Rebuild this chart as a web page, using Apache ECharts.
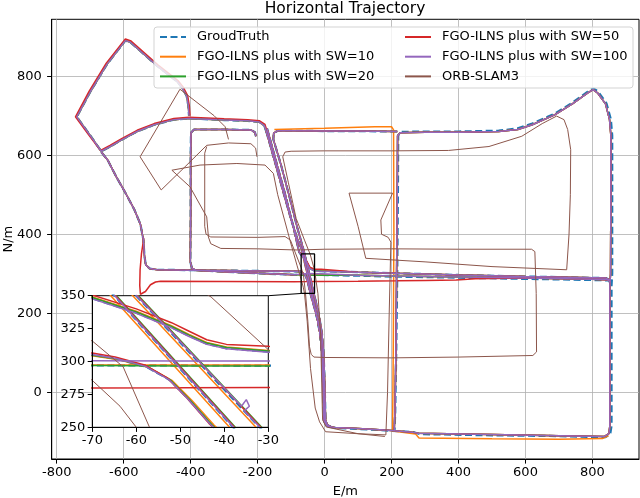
<!DOCTYPE html>
<html>
<head>
<meta charset="utf-8">
<script src="https://cdn.jsdelivr.net/npm/echarts@6/dist/echarts.min.js"></script>
<style>
  html, body { margin: 0; padding: 0; background: #fff; }
  #chart { width: 640px; height: 498px; }
</style>
</head>
<body>
<div id="chart"></div>
<script>
// Horizontal trajectory: ground truth vs FGO-ILNS variants vs ORB-SLAM3, with a zoom inset
const FONT = "'DejaVu Sans', sans-serif";

// axes
const xMainRange = [-815, 939];
const yMainRange = [-169, 944];
const xMainTicks = [-800, -600, -400, -200, 0, 200, 400, 600, 800];
const yMainTicks = [0, 200, 400, 600, 800];
const insetX = [-70, -30];
const insetY = [250, 350];

// names
const names = ['GroudTruth', 'FGO-ILNS plus with SW=10', 'FGO-ILNS plus with SW=20',
  'FGO-ILNS plus with SW=50', 'FGO-ILNS plus with SW=100', 'ORB-SLAM3'];

// shared road pieces [E, N] (m)
const rectRoad = [[-205,648],[-208,658],[-220,664],[-300,665],[-390,665],[-399,657],[-400,600],[-400,450],[-401,330],[-396,314],[-385,309],[-300,305],[-200,301],[-90,297.2]];
const westRoad = [[-667,608],[-648,588],[-622,545],[-595,505],[-568,462],[-550,425],[-541,385],[-538,345],[-534,322],[-522,313],[-500,310],[-400,309],[-300,308],[-200,307],[-90,306]];
const topWestKite = [[-175,662],[-180,675],[-195,684],[-230,687],[-300,689],[-405,693],[-450,690],[-509,677],[-560,660],[-606,639],[-640,622],[-667,610],[-700,650],[-740,697],[-700,760],[-650,830],[-595,890],[-580,886],[-500,826],[-440,786],[-425,770],[-412,750],[-407,725],[-405,700]];
const diagANorth = [[-175,662],[-170,648],[-150,588],[-125,512],[-100,437],[-82,390],[-68,361]];
const diagASouth = [[-35,239],[-25,200],[-14,150],[-8,100],[-5,30],[-3,-40],[-2,-72],[5,-84],[15,-88]];
const diagBNorth = [[217,660],[100,661],[0,661],[-100,662],[-140,662],[-152,656],[-153,640],[-130,575],[-105,495],[-82,418],[-63,361]];
const diagBSouth = [[-29,239],[-18,200],[-8,150],[-3,100],[0,30],[2,-40],[3,-70],[8,-83],[20,-88]];
const upperNorth = [[-172,668],[-166,650],[-145,585],[-120,508],[-95,425],[-76,355]];
const southFromL = [[-30,213],[-20,180],[-12,140],[-6,90],[-3,30],[-1,-30],[0,-65],[4,-80],[12,-87]];
const hEast1 = [[-10,297],[100,296],[215,294],[400,292],[600,289],[800,286],[845,285],[852,279]];
const hEast1Gt = [[-10,296.8],[100,295],[215,292.5],[400,290],[600,287],[800,284],[847,283],[854,277]];
const hEast2 = [[-10,306.5],[100,304],[215,301],[400,297],[600,293],[840,289],[853,284]];
const outerFgo = [[12,-87],[30,-89],[100,-92],[190,-96],[260,-101],[280,-104],[500,-107],[700,-110],[836,-112],[849,-105],[852,-85],[852,100],[852,270],[854,300],[855,500],[855,650],[851,690],[839,730],[815,758],[802,766],[786,758],[740,730],[687,702],[620,677],[577,665],[520,660],[400,658],[300,658],[226,657],[218,649],[217,500],[215,298],[213,100],[210,-50],[208,-96]];
const outerGt = [[12,-88],[30,-90],[100,-93],[190,-97],[265,-101],[285,-106],[500,-109],[700,-111],[838,-114],[853,-106],[857,-85],[857,100],[857,270],[859,300],[859,500],[859,650],[855,691],[842,731],[817,761],[803,769],[786,761],[740,733],[687,705],[620,680],[577,668],[520,662],[400,660],[300,660],[227,659],[220,650],[219,500],[217,298],[214,100],[211,-50],[209,-96]];

// series-specific pieces
const sw10Extra = [[-150,665],[0,668],[150,672],[200,672],[206,664],[207,400],[205,100],[203,-98],[272,-106],[282,-116],[500,-118],[700,-119],[830,-117],[848,-110]];
const sw50Hook = [[-540,390],[-547,350],[-551,310],[-552,270],[-550,248],[-545,243],[-535,255],[-520,272],[-505,279],[-490,281],[-300,280],[-90,279.6]];
const sw50East = [[-10,280.6],[100,281],[215,282],[300,283],[393,284],[450,287],[600,289],[800,286],[850,284]];
const sw50Kite = [[-173,664],[-178,678],[-194,687],[-230,690],[-300,692],[-405,696],[-450,693],[-509,680],[-560,663],[-606,642],[-641,625],[-669,612],[-703,650],[-744,697],[-703,762],[-652,833],[-595,894],[-578,889],[-498,829],[-438,789],[-422,772],[-409,751],[-404,725],[-402,700]];

// junction crossings (the inset window), one per series
const jH = {
  gt:    [[-90,297.3],[-50,297.0],[-10,296.8]],
  sw10:  [[-90,297.6],[-50,297.4],[-10,297.1]],
  sw20:  [[-90,296.9],[-50,296.6],[-10,296.4]],
  sw50:  [[-90,279.6],[-50,280.0],[-10,280.6]],
  sw100: [[-90,300.6],[-50,300.4],[-10,300.2]]
};
const jU = {
  gt:    [[-76,355],[-70,348],[-60,337],[-52,326],[-48,319.5],[-44,313.5],[-39.5,310],[-30,307.5],[-10,306.5]],
  sw10:  [[-76,356],[-70,349],[-60,338.2],[-52,327.2],[-48,320.6],[-44,314.4],[-39.5,311],[-30,308.4],[-10,307.4]],
  sw20:  [[-76,355.5],[-70,348.6],[-60,337.6],[-52,326.6],[-48,320],[-44,314],[-39.5,310.6],[-30,308],[-10,307]],
  sw50:  [[-76,357],[-70,350.5],[-60,340],[-52,329.5],[-48,323],[-44,316.5],[-39.5,313],[-30,311.5],[-10,311]],
  sw100: [[-76,354.6],[-70,347.6],[-60,336.6],[-52,325.6],[-48,319],[-44,313],[-39.5,309.6],[-30,307],[-10,306]]
};
const jL = {
  gt:    [[-90,306],[-70,305],[-64.5,302],[-57.7,296],[-52.4,286],[-48,271],[-43,252],[-39.5,241],[-30,213]],
  sw10:  [[-90,305.5],[-70,304.4],[-64,301.4],[-57.1,295.4],[-51.8,285.4],[-47.4,270.6],[-42.3,251.6],[-38.8,240.6],[-29.3,212.6]],
  sw20:  [[-90,305.8],[-70,304.8],[-64.3,301.8],[-57.5,295.8],[-52.2,285.8],[-47.8,270.8],[-42.8,251.8],[-39.3,240.8],[-29.8,212.8]],
  sw50:  [[-90,307.3],[-70,306.4],[-64.8,303.4],[-58.1,297.4],[-52.9,287.3],[-48.5,272.2],[-43.5,253],[-40,242],[-30.5,214]],
  sw100: [[-90,306.2],[-70,305.3],[-64.6,302.3],[-57.9,296.3],[-52.6,286.3],[-48.2,271.3],[-43.2,252.3],[-39.7,241.3],[-30.2,213.3]]
};
const jA = {
  gt:    [[-67.7,360],[-65,350],[-38,250],[-35,239]],
  sw10:  [[-68.5,360],[-65.8,350],[-38.8,250],[-35.8,239]],
  sw20:  [[-67.2,360],[-64.5,350],[-37.5,250],[-34.5,239]],
  sw50:  [[-67.4,360],[-64.7,350],[-37.7,250],[-34.7,239]],
  sw100: [[-67.6,360],[-64.9,350],[-37.9,250],[-34.9,239]]
};
const jB = {
  gt:    [[-62.7,360],[-60,350],[-32,250],[-29,239]],
  sw10:  [[-63.5,360],[-60.8,350],[-32.8,250],[-29.8,239]],
  sw20:  [[-62.2,360],[-59.5,350],[-31.5,250],[-28.5,239]],
  sw50:  [[-62.4,360],[-59.7,350],[-31.7,250],[-28.7,239]],
  sw100: [[-62.6,360],[-59.9,350],[-36.1,266],[-35,271],[-34.3,266],[-35.5,262.5],[-31.9,250],[-28.9,239]]
};

// ORB-SLAM3 (drifting)
const orbA = [[-202,596],[-206,618],[-220,629],[-287,631],[-352,625],[-420,568],[-488,512],[-551,596],[-432,767],[-330,700],[-297,672],[-287,640]];
const orbB = [[-352,622],[-358,605],[-358,420],[-354,400],[-340,393],[-200,392],[-118,394],[-102,385],[-86,350],[-69.8,315],[-63,296],[-57,250],[-50,180],[-45,115],[-40,96],[-32,89],[0,88],[200,87],[400,89],[622,93],[633,102],[632,250],[628,356],[618,362],[400,362],[200,363],[0,362],[-80,360],[-200,363],[-310,364],[-340,376],[-347,393],[-352,444],[-402,520],[-456,562],[-372,575],[-262,579],[-178,575],[-153,554],[-140,500],[-98,368],[-82,320],[-69.8,285],[-63.7,266],[-60,250],[-52,180],[-42,60],[-28,-40],[-15,-75],[3,-100],[100,-105],[183,-108],[188,0],[193,200],[198,380],[190,392],[170,400],[168,436],[203,504],[73,504],[100,420],[123,339],[300,330],[500,318],[723,310],[730,400],[734,500],[735,614],[726,665],[715,690],[693,699],[650,680],[589,648],[491,622],[370,612],[200,611],[0,611],[-100,610],[-118,608],[-125,596],[-108,530],[-85,440],[-60,385],[-43,349],[-30,309],[-20,250],[-12,150],[-8,0],[-6,-70],[5,-88],[100,-105],[180,-112]];

const styles = {
  gt:    { color: '#1f77b4', width: 2.2, type: [7, 3.5] },
  sw10:  { color: '#ff7f0e', width: 1.5 },
  sw20:  { color: '#2ca02c', width: 1.5 },
  sw50:  { color: '#d62728', width: 1.5 },
  sw100: { color: '#9467bd', width: 1.5 },
  orb:   { color: '#8c564b', width: 1 }
};

function pathsFor(key) {
  const outer = key === 'gt' ? outerGt : outerFgo;
  const hE1 = key === 'gt' ? hEast1Gt : hEast1;
  const paths = [
    key === 'sw50' ? rectRoad : rectRoad.concat(jH[key], hE1),
    westRoad.concat(jL[key], southFromL, outer),
    key === 'sw50' ? sw50Kite : topWestKite,
    diagANorth.concat(jA[key], diagASouth),
    diagBNorth.concat(jB[key], diagBSouth),
    upperNorth.concat(jU[key], hEast2)
  ];
  if (key === 'sw10') paths.push(sw10Extra);
  if (key === 'sw50') paths.push(sw50Hook.concat(jH.sw50, sw50East));
  return paths;
}

const keys = ['gt', 'sw10', 'sw20', 'sw50', 'sw100', 'orb'];
const series = [];
function addLine(name, data, st, inset) {
  series.push({
    type: 'line', name: name, data: data,
    xAxisIndex: inset ? 1 : 0, yAxisIndex: inset ? 1 : 0,
    symbol: 'none', showSymbol: false, silent: true,
    z: inset ? 7 : 2,
    lineStyle: { color: st.color, width: st.width, type: st.type || 'solid' },
    itemStyle: { color: st.color },
    emphasis: { disabled: true }
  });
}
[false, true].forEach(function (inset) {
  keys.forEach(function (k, i) {
    const paths = k === 'orb' ? [orbA, orbB] : pathsFor(k);
    paths.forEach(function (p) { addLine(names[i], p, styles[k], inset); });
  });
});

// zoom indicator on the main axes
series.push({
  type: 'line', name: 'zoomBox', silent: true, symbol: 'none', z: 3,
  data: [[insetX[0], insetY[0]], [insetX[1], insetY[0]], [insetX[1], insetY[1]], [insetX[0], insetY[1]], [insetX[0], insetY[0]]],
  lineStyle: { color: '#000', width: 1.3 }
});

const tickLabel = { fontSize: 13, color: '#000', fontFamily: FONT };
const legendCommon = {
  orient: 'vertical', top: 30, padding: 0, itemWidth: 26, itemHeight: 14, itemGap: 5.7,
  selectedMode: false, z: 10,
  itemStyle: { opacity: 0 },
  textStyle: { fontSize: 13, lineHeight: 14, color: '#000', fontFamily: FONT, padding: [0, 0, 0, 6] }
};

const chart = echarts.init(document.getElementById('chart'));
chart.setOption({
  animation: false,
  backgroundColor: '#fff',
  textStyle: { fontFamily: FONT },
  title: {
    text: 'Horizontal Trajectory', left: 345, top: 1, padding: 0, textAlign: 'center',
    textStyle: { fontSize: 15.5, fontWeight: 'normal', color: '#000', fontFamily: FONT }
  },
  legend: [
    Object.assign({ left: 159, data: names.slice(0, 3) }, legendCommon),
    Object.assign({ left: 404, data: names.slice(3) }, legendCommon)
  ],
  grid: [
    { left: 51.7, top: 19.3, right: 1, bottom: 39, show: true, borderColor: '#000', borderWidth: 1,
      containLabel: false, outerBoundsMode: 'none' },
    { left: 92.3, top: 295.7, width: 176, height: 131.6, show: true, backgroundColor: '#fff',
      borderColor: '#000', borderWidth: 1, z: 5, containLabel: false, outerBoundsMode: 'none' }
  ],
  xAxis: [
    {
      type: 'value', gridIndex: 0, min: xMainRange[0], max: xMainRange[1],
      splitNumber: 9, minInterval: 200, maxInterval: 200,
      name: 'E/m', nameLocation: 'middle', nameGap: 26, nameMoveOverlap: false,
      nameTextStyle: { fontSize: 13, color: '#000', fontFamily: FONT },
      axisLine: { show: true, onZero: false, lineStyle: { color: '#000', width: 1 } },
      axisTick: { show: true, inside: false, length: 4.6, lineStyle: { color: '#000', width: 1 }, customValues: xMainTicks },
      axisLabel: Object.assign({ margin: 7, customValues: xMainTicks }, tickLabel),
      splitLine: { show: true, lineStyle: { color: '#b0b0b0', width: 0.8 } }
    },
    {
      type: 'value', gridIndex: 1, min: insetX[0], max: insetX[1], interval: 10, z: 8,
      axisLine: { show: true, onZero: false, lineStyle: { color: '#000', width: 1 } },
      axisTick: { show: true, inside: false, length: 4.6, lineStyle: { color: '#000', width: 1 } },
      axisLabel: Object.assign({ margin: 7 }, tickLabel),
      splitLine: { show: false }
    }
  ],
  yAxis: [
    {
      type: 'value', gridIndex: 0, min: yMainRange[0], max: yMainRange[1],
      splitNumber: 6, minInterval: 200, maxInterval: 200,
      name: 'N/m', nameLocation: 'middle', nameGap: 37, nameRotate: 90, nameMoveOverlap: false,
      nameTextStyle: { fontSize: 13, color: '#000', fontFamily: FONT },
      axisLine: { show: true, onZero: false, lineStyle: { color: '#000', width: 1 } },
      axisTick: { show: true, inside: false, length: 4.6, lineStyle: { color: '#000', width: 1 }, customValues: yMainTicks },
      axisLabel: Object.assign({ margin: 10, customValues: yMainTicks }, tickLabel),
      splitLine: { show: true, lineStyle: { color: '#b0b0b0', width: 0.8 } }
    },
    {
      type: 'value', gridIndex: 1, min: insetY[0], max: insetY[1], interval: 25, z: 8,
      axisLine: { show: true, onZero: false, lineStyle: { color: '#000', width: 1 } },
      axisTick: { show: true, inside: false, length: 4.6, lineStyle: { color: '#000', width: 1 } },
      axisLabel: Object.assign({ margin: 7 }, tickLabel),
      splitLine: { show: false }
    }
  ],
  graphic: [
    { id: 'legendFrame', type: 'rect', z: 9, silent: true,
      shape: { x: 154, y: 27, width: 479, height: 61, r: 3 },
      style: { fill: 'rgba(255,255,255,0.8)', stroke: '#d3d3d3', lineWidth: 1 } }
  ],
  series: series
});

// connector from the inset corner to the zoom box corner
const pInset = chart.convertToPixel({ gridIndex: 1 }, [insetX[1], insetY[1]]);
const pMain = chart.convertToPixel({ gridIndex: 0 }, [insetX[0], insetY[0]]);
chart.setOption({
  graphic: [
    { id: 'legendFrame' },
    { id: 'connector', type: 'line', z: 6, silent: true,
      shape: { x1: pInset[0], y1: pInset[1], x2: pMain[0], y2: pMain[1] },
      style: { stroke: '#000', lineWidth: 1 } }
  ]
});
</script>
</body>
</html>
